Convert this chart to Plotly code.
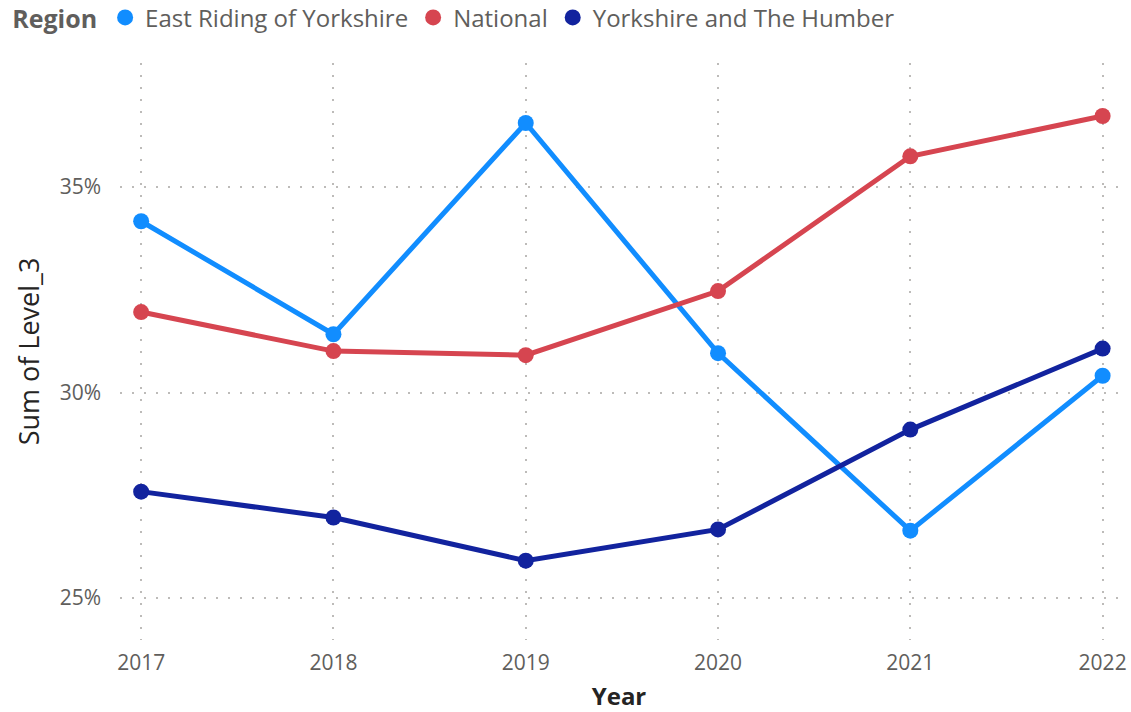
import plotly.graph_objects as go

years = [2017, 2018, 2019, 2020, 2021, 2022]
east_riding = [0.3417, 0.3142, 0.3656, 0.3096, 0.2664, 0.3041]
national = [0.3196, 0.3101, 0.3091, 0.3247, 0.3575, 0.3673]
yorkshire_humber = [0.2759, 0.2696, 0.2591, 0.2667, 0.2910, 0.3107]

series = [
	("East Riding of Yorkshire", east_riding, "#118DFF"),
	("National", national, "#D64550"),
	("Yorkshire and The Humber", yorkshire_humber, "#12239E"),
]

fig = go.Figure()
for name, vals, color in series:
	fig.add_trace(go.Scatter(
		x = years,
		y = vals,
		name = name,
		mode = "lines+markers",
		showlegend = False,
		line = dict(color = color, width = 5),
		marker = dict(color = color, size = 16)))
	# legend entry: just the dot, like the reference
	fig.add_trace(go.Scatter(
		x = [None], y = [None],
		name = name,
		mode = "markers",
		marker = dict(color = color, size = 18)))

font_family = "Open Sans, Noto Sans, sans-serif"

fig.update_layout(
	width = 1131, height = 712,
	plot_bgcolor = "white", paper_bgcolor = "white",
	margin = dict(l = 120, r = 13, t = 63, b = 72),
	font = dict(family = font_family, color = "#605E5C"),
	showlegend = True,
	legend = dict(
		orientation = "h",
		xref = "container", yref = "container",
		x = 0.009, y = 0.975, xanchor = "left", yanchor = "middle",
		title = dict(text = "<b>Region</b>", font = dict(size = 25, color = "#605E5C")),
		font = dict(size = 24, color = "#605E5C"),
		itemwidth = 30, tracegroupgap = 0),
	xaxis = dict(
		range = [2016.89, 2022.08],
		automargin = False,
		tickvals = years,
		ticktext = [str(y) for y in years],
		tickfont = dict(size = 21, color = "#605E5C"),
		ticklabeloverflow = "allow",
		showgrid = True, gridcolor = "#BDBBB9", gridwidth = 2, griddash = "2px,10px",
		zeroline = False, showline = False,
		ticks = "", ticklabelstandoff = 8,
		title = dict(text = "<b>Year</b>", font = dict(size = 24, color = "#252423"), standoff = 13)),
	yaxis = dict(
		range = [0.2398, 0.3802],
		automargin = False,
		tickvals = [0.25, 0.30, 0.35],
		tickformat = ".0%",
		tickfont = dict(size = 21, color = "#605E5C"),
		showgrid = True, gridcolor = "#BDBBB9", gridwidth = 2, griddash = "2px,10px",
		zeroline = False, showline = False,
		ticks = "", ticklabelstandoff = 18,
		title = dict(text = "Sum of Level_3", font = dict(size = 27, color = "#252423"), standoff = 12)),
)

# drop the browser's default body margin so the figure fills the window exactly
fig.write_html("out.html", config = {"displayModeBar": False},
	post_script = "document.body.style.margin = '0';")
